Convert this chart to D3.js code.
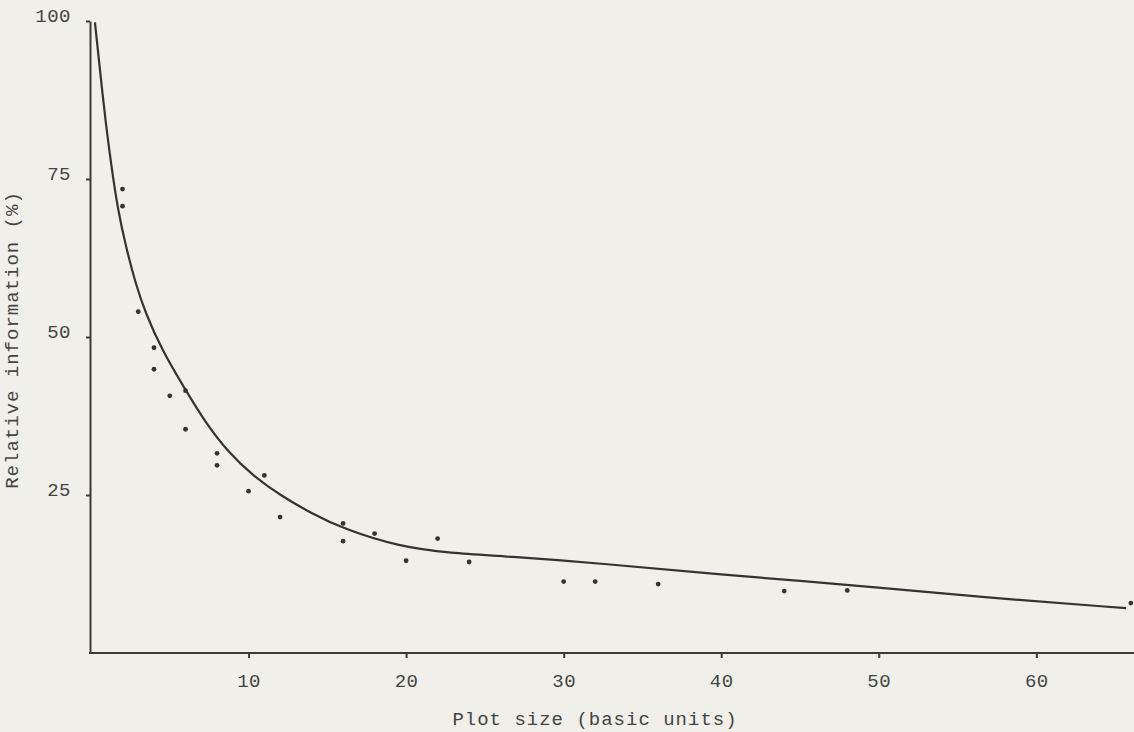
<!DOCTYPE html>
<html>
<head>
<meta charset="utf-8">
<script src="https://cdn.jsdelivr.net/npm/d3@7"></script>
<style>
    body { margin: 0; background: #f0efea; }
    svg { display: block; }
    text { font-family: "Liberation Mono", "DejaVu Sans Mono", monospace; fill: #444; }
    .axis path, .axis line { stroke: #3a3a3a; stroke-width: 2; }
</style>
</head>
<body>
<div id="field"></div>
<script>

// observed points (plot size in basic units, relative information %)
const plotSize = [2, 2, 3, 4, 4, 5, 6, 6, 8, 8, 10, 11, 12, 16, 16, 18, 20, 22, 24, 30, 32, 36, 44, 48, 66];
const relInfo  = [73.4, 70.7, 54.0, 48.3, 44.9, 40.7, 41.5, 35.4, 31.6, 29.7, 25.6, 28.1, 21.5, 20.5, 17.7, 18.9, 14.6, 18.1, 14.4, 11.3, 11.3, 10.9, 9.8, 9.9, 7.9];

// fitted curve
const curveX = [0.25, 0.57, 0.95, 1.33, 1.71, 2.22, 2.86, 3.43, 4.5, 6.03, 7.23, 8.69, 10.4, 12.0, 13.9, 16.05, 19.6, 22.8, 26.4, 32.3, 39.85, 48.2, 56.1, 65.7];
const curveY = [99.8, 92.2, 83.5, 76.4, 70.1, 64.2, 58.2, 54.0, 47.9, 41.5, 36.6, 31.8, 27.8, 25.0, 22.2, 19.6, 16.8, 15.8, 15.3, 14.2, 12.4, 10.8, 8.9, 7.1];

const xTicks = [10, 20, 30, 40, 50, 60];
const yTicks = [25, 50, 75, 100];

const xLabel = "Plot size (basic units)";
const yLabel = "Relative information (%)";

const width = 1134;
const height = 732;

const x = d3.scaleLinear()
    .domain([0, 66.2])
    .range([91, 1134]);

const y = d3.scaleLinear()
    .domain([0, 100])
    .range([653, 21]);

const chart = d3.select("#field")
    .append("svg")
    .attr("width", width)
    .attr("height", height);

// axes

const xAxis = d3.axisBottom(x)
    .tickValues(xTicks)
    .tickSize(5)
    .tickSizeOuter(0);

const gx = chart.append("g")
    .attr("class", "axis")
    .attr("transform", "translate(0,653)")
    .call(xAxis);

gx.select(".domain").attr("d", "M89,0H1134");

gx.selectAll("text")
    .attr("y", 34)
    .attr("dy", 0)
    .style("font-size", "19px")
    .style("letter-spacing", "0.5px");

const yAxis = d3.axisLeft(y)
    .tickValues(yTicks)
    .tickSize(4)
    .tickSizeOuter(0);

const gy = chart.append("g")
    .attr("class", "axis")
    .attr("transform", "translate(90,0)")
    .call(yAxis);

gy.selectAll("text")
    .attr("x", -19)
    .attr("dy", 0)
    .style("font-size", "19px")
    .style("letter-spacing", "0.5px");

// axis titles

chart.append("text")
    .attr("x", 595)
    .attr("y", 725)
    .attr("text-anchor", "middle")
    .style("font-size", "19px")
    .style("letter-spacing", "1px")
    .text(xLabel);

chart.append("text")
    .attr("transform", "translate(18,340) rotate(-90)")
    .attr("text-anchor", "middle")
    .style("font-size", "19px")
    .style("letter-spacing", "1px")
    .text(yLabel);

// curve

const curveData = curveX.map(function(d, i) { return {x: d, y: curveY[i]}; });

const line = d3.line()
    .x(function(d) { return x(d.x); })
    .y(function(d) { return y(d.y); })
    .curve(d3.curveBasis);

chart.append("path")
    .datum(curveData)
    .attr("d", line)
    .attr("fill", "none")
    .attr("stroke", "#333")
    .attr("stroke-width", 2.2);

// points

chart.append("g").selectAll("circle")
    .data(plotSize)
    .enter().append("circle")
    .attr("cx", function(d) { return x(d); })
    .attr("cy", function(d, i) { return y(relInfo[i]); })
    .attr("r", 2.4)
    .attr("fill", "#333");

</script>
</body>
</html>
